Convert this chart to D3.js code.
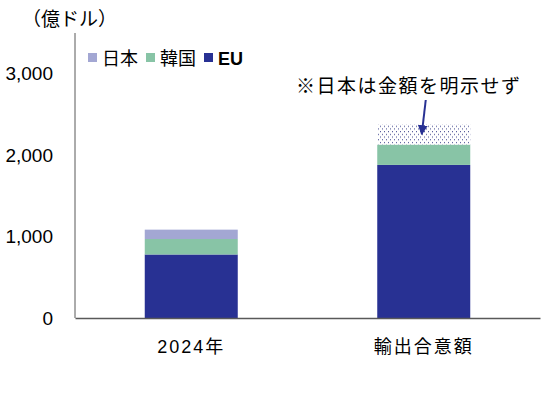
<!DOCTYPE html>
<html lang="ja">
<head>
  <meta charset="UTF-8">
  <title>輸出合意額</title>
  <script src="https://d3js.org/d3.v7.min.js"></script>
  <style>
    body { margin: 0; background: #fff; }
    svg text { font-family: "Liberation Sans", "Noto Sans CJK JP", sans-serif; fill: #000; }
  </style>
</head>
<body>
  <svg id="chart" width="541" height="394"></svg>
  <script>
    // data (億ドル)
    const categories = ["2024年", "輸出合意額"];
    const seriesNames = ["EU", "韓国", "日本"];
    const euValues = [780, 1880];
    const koreaValues = [190, 250];
    const japanValues = [115, 250];   // second one is the undisclosed (dotted) part
    const yTicks = [0, 1000, 2000, 3000];
    const legendOrder = ["日本", "韓国", "EU"];
    const note = "※日本は金額を明示せず";

    const colors = { "日本": "#a3a7d3", "韓国": "#88c4a6", "EU": "#283193" };

    const svg = d3.select("#chart");
    const margin = {top: 33, right: 1, bottom: 76, left: 75};
    const width = +svg.attr("width") - margin.left - margin.right;
    const height = +svg.attr("height") - margin.top - margin.bottom;

    const defs = svg.append("defs");
    const pat = defs.append("pattern")
      .attr("id", "dots")
      .attr("patternUnits", "userSpaceOnUse")
      .attr("width", 4).attr("height", 5.4);
    pat.append("rect").attr("width", 4).attr("height", 5.4).attr("fill", "#fff");
    pat.append("rect").attr("x", 1).attr("y", 1).attr("width", 1).attr("height", 1).attr("fill", "#3a3f8a");
    pat.append("rect").attr("x", 3).attr("y", 3.7).attr("width", 1).attr("height", 1).attr("fill", "#3a3f8a");

    const g = svg.append("g").attr("transform", `translate(${margin.left},${margin.top})`);

    const x = d3.scaleBand().domain(categories).range([0, width]).paddingInner(0.6).paddingOuter(0.3);
    const y = d3.scaleLinear().domain([0, 3500]).range([height, 0]);

    const rows = categories.map((c, i) => ({
      cat: c, "EU": euValues[i], "韓国": koreaValues[i], "日本": japanValues[i]
    }));
    const stacked = d3.stack().keys(seriesNames)(rows);

    stacked.forEach(layer => {
      g.selectAll(null)
        .data(layer)
        .enter()
        .append("rect")
        .attr("x", d => x(d.data.cat))
        .attr("y", d => y(d[1]))
        .attr("width", x.bandwidth())
        .attr("height", d => y(d[0]) - y(d[1]))
        .attr("fill", (d, i) => (layer.key === "日本" && i === 1) ? "url(#dots)" : colors[layer.key]);
    });

    // axes
    const yAxis = g.append("g")
      .call(d3.axisLeft(y).tickValues(yTicks).tickSize(0).tickPadding(22).tickFormat(d3.format(",")));
    yAxis.select(".domain").attr("stroke", "#595959").attr("d", `M0,0V${height}`);
    yAxis.selectAll("text").style("font-size", "19px");

    const xAxis = g.append("g")
      .attr("transform", `translate(0,${height})`)
      .call(d3.axisBottom(x).tickSize(0).tickPadding(22));
    xAxis.select(".domain").attr("stroke", "#595959").attr("stroke-width", 1.5);
    xAxis.selectAll("text").style("font-size", "18px").style("letter-spacing", "2px");

    // unit
    svg.append("text")
      .attr("x", 22).attr("y", 26)
      .style("font-size", "19px")
      .text("（億ドル）");

    // legend
    const legend = svg.append("g").attr("transform", "translate(88,52)");
    const legendX = [0, 58, 116];
    legendOrder.forEach((k, i) => {
      const lg = legend.append("g").attr("transform", `translate(${legendX[i]},0)`);
      lg.append("rect").attr("y", 1).attr("width", 9).attr("height", 9).attr("fill", colors[k]);
      lg.append("text").attr("x", 14).attr("y", 13)
        .style("font-size", "18px")
        .style("font-weight", k === "EU" ? "bold" : "normal")
        .text(k);
    });

    // note + arrow
    const cx = x(categories[1]) + x.bandwidth() / 2;
    g.append("text")
      .attr("x", cx - 15).attr("y", 93 - margin.top)
      .attr("text-anchor", "middle")
      .style("font-size", "19px")
      .style("letter-spacing", "1.5px")
      .text(note);

    const tipY = y(euValues[1] + koreaValues[1] + japanValues[1]) + 10;
    defs.append("marker")
      .attr("id", "arrow").attr("viewBox", "0 0 10 10")
      .attr("refX", 9).attr("refY", 5)
      .attr("markerWidth", 5).attr("markerHeight", 5)
      .attr("orient", "auto")
      .append("path").attr("d", "M0,0L10,5L0,10z").attr("fill", "#283193");
    g.append("line")
      .attr("x1", cx + 2).attr("y1", 100 - margin.top)
      .attr("x2", cx - 2).attr("y2", tipY)
      .attr("stroke", "#283193").attr("stroke-width", 2)
      .attr("marker-end", "url(#arrow)");
  </script>
</body>
</html>
